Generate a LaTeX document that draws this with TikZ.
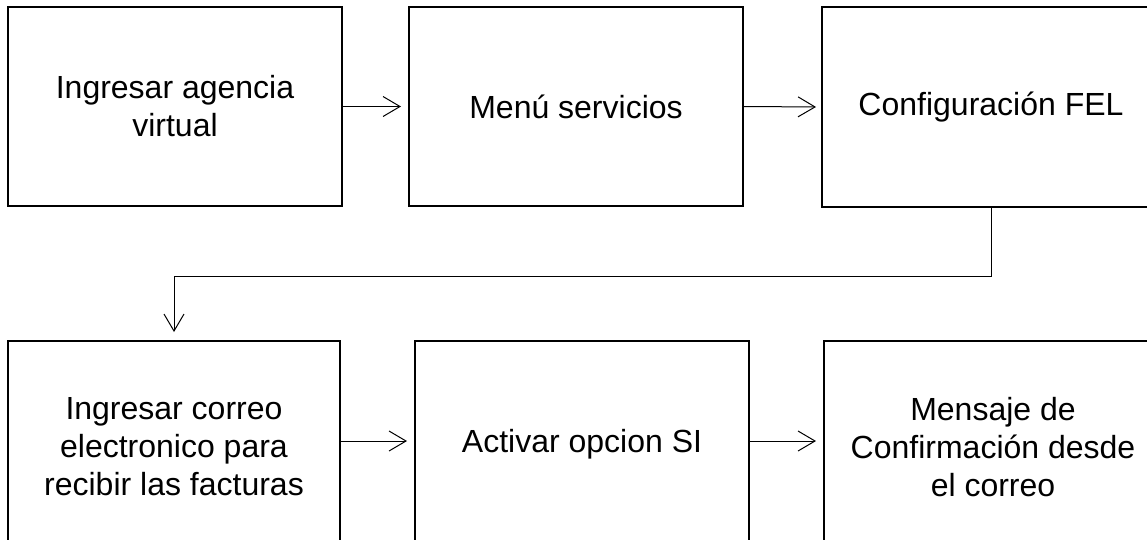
\documentclass[tikz,border=0pt]{standalone}
\usepackage{fontspec}
\setmainfont{Liberation Sans}
\usetikzlibrary{arrows.meta}
\begin{document}
\begin{tikzpicture}[x=1pt,y=-1pt,
  txt/.style={align=center,inner sep=0pt,font=\fontsize{32}{38}\selectfont},
  box/.style={draw,line width=2pt,rectangle,txt},
  conn/.style={line width=1pt,-{Straight Barb[length=17pt,width=20pt,line width=1pt]}}]
\useasboundingbox (0,0) rectangle (1147,539);
\clip (0,0) rectangle (1147,539);
\node[box,minimum width=334pt,minimum height=199pt] (b1) at (175,106.5) {Ingresar agencia\\virtual};
\node[box,minimum width=334pt,minimum height=199pt] (b2) at (576,106.5) {Menú servicios};
\node[box,minimum width=378pt,minimum height=200pt] (b3) at (1011,107) {};
\node[txt] (t3) at ([xshift=-20pt]b3.center) {Configuración FEL};
\node[box,minimum width=332pt,minimum height=212pt] (b4) at (174,447) {Ingresar correo\\electronico para\\recibir las facturas};
\node[box,minimum width=334pt,minimum height=212pt] (b5) at (582,447) {Activar opcion SI\rule[-13pt]{0pt}{1pt}};
\node[box,minimum width=378pt,minimum height=212pt] (b6) at (1013,447) {};
\node[txt] (t6) at ([xshift=-20pt]b6.center) {Mensaje de\\Confirmación desde\\el correo};
\coordinate (turn) at ([xshift=-20pt]b3.south);
\draw[conn,shorten >=7pt] (b1.east) -- (b2.west);
\draw[conn,shorten >=5pt] (b2.east) -- (b3.west);
\draw[conn,shorten >=7pt] ([yshift=6pt]b4.east) -- ([yshift=6pt]b5.west);
\draw[conn,shorten >=7pt] ([yshift=6pt]b5.east) -- ([yshift=6pt]b6.west);
\draw[conn,shorten >=8pt] (turn) -- ++(0,68) -| (b4.north);
\end{tikzpicture}
\end{document}
